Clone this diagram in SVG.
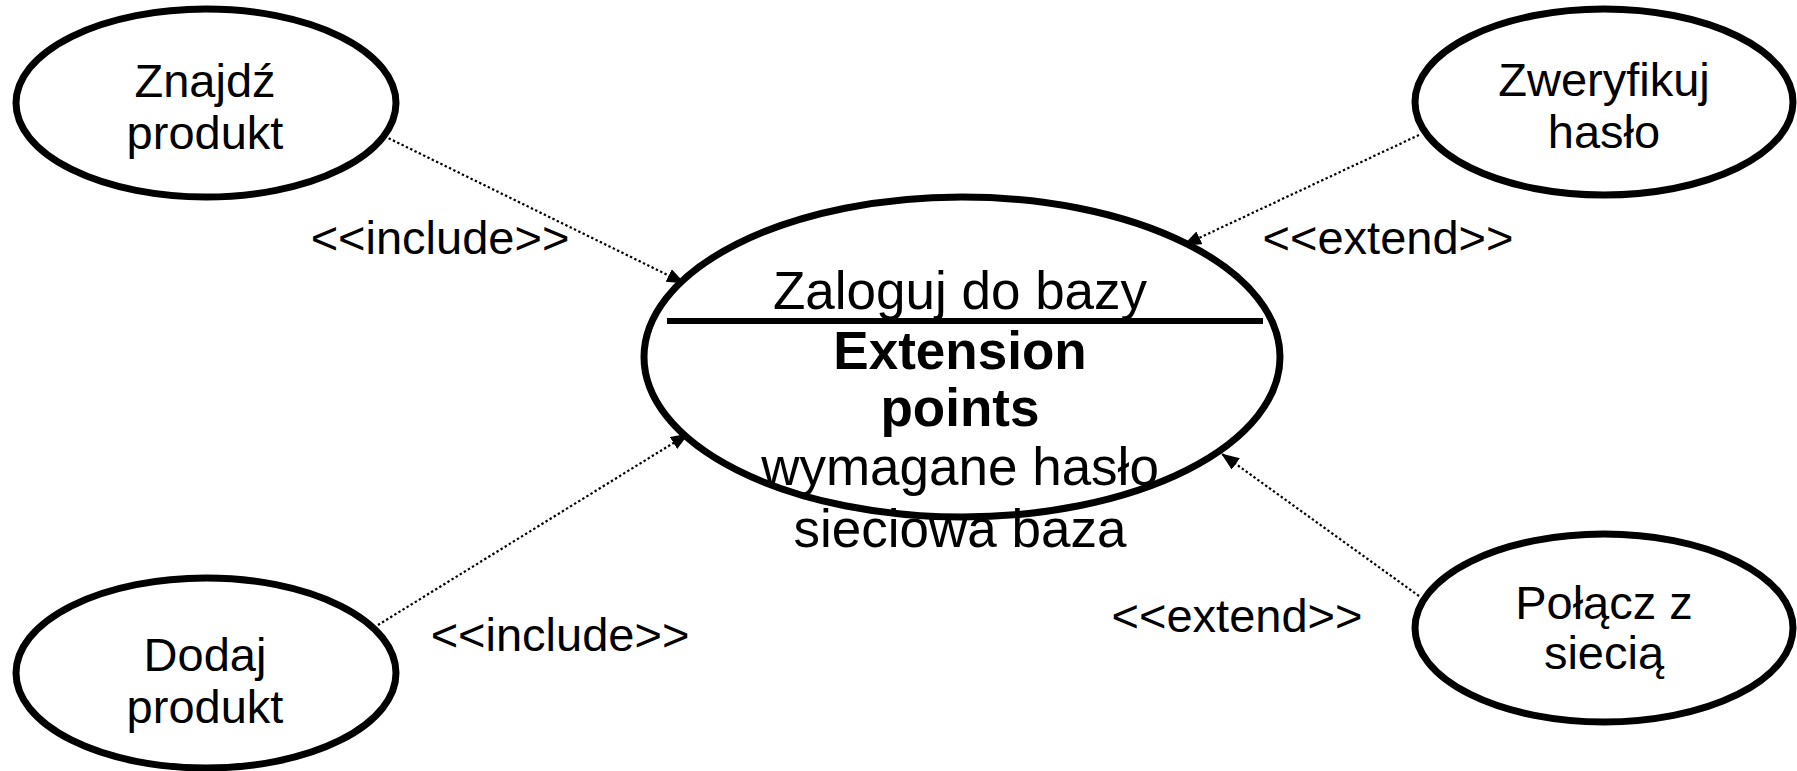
<svg xmlns="http://www.w3.org/2000/svg" width="1797" height="771" viewBox="0 0 1797 771">
  <style>
    .uc { fill: #ffffff; stroke: #000000; stroke-width: 7; }
    .t { font-family: "Liberation Sans", Arial, sans-serif; font-size: 47px; fill: #000000; text-anchor: middle; }
    .tc { font-family: "Liberation Sans", Arial, sans-serif; font-size: 53px; fill: #000000; text-anchor: middle; }
    .b { font-weight: bold; }
    .dep { fill: none; stroke: #000000; stroke-width: 2.2; stroke-dasharray: 2.4 2.4; marker-end: url(#arrow); }
  </style>
  <defs>
    <marker id="arrow" markerUnits="userSpaceOnUse" markerWidth="18" markerHeight="14" viewBox="0 0 18 14" refX="17" refY="7" orient="auto">
      <path d="M0,0 L18,7 L0,14 Z" fill="#000000"/>
    </marker>
  </defs>
  <rect width="1797" height="771" fill="#ffffff"/>

  <!-- dependencies between use cases -->
  <g id="connectors">
    <line class="dep" x1="380" y1="134" x2="684" y2="283"/>
    <line class="dep" x1="1419" y1="135" x2="1184" y2="245"/>
    <line class="dep" x1="378" y1="625" x2="688" y2="434"/>
    <line class="dep" x1="1419" y1="596" x2="1222" y2="454"/>
    <text class="t" x="440" y="254">&lt;&lt;include&gt;&gt;</text>
    <text class="t" x="1388" y="254">&lt;&lt;extend&gt;&gt;</text>
    <text class="t" x="560" y="651">&lt;&lt;include&gt;&gt;</text>
    <text class="t" x="1237" y="632">&lt;&lt;extend&gt;&gt;</text>
  </g>

  <g id="znajdz-produkt">
    <ellipse class="uc" cx="206" cy="103" rx="190" ry="94"/>
    <text class="t" x="205" y="97">Znajdź</text>
    <text class="t" x="205" y="149">produkt</text>
  </g>

  <g id="zweryfikuj-haslo">
    <ellipse class="uc" cx="1604" cy="102" rx="189" ry="93"/>
    <text class="t" x="1604" y="96">Zweryfikuj</text>
    <text class="t" x="1604" y="148">hasło</text>
  </g>

  <g id="dodaj-produkt">
    <ellipse class="uc" cx="206" cy="673" rx="190" ry="95"/>
    <text class="t" x="205" y="671">Dodaj</text>
    <text class="t" x="205" y="723">produkt</text>
  </g>

  <g id="polacz-z-siecia">
    <ellipse class="uc" cx="1604" cy="628" rx="189" ry="94"/>
    <text class="t" x="1604" y="619">Połącz z</text>
    <text class="t" x="1604" y="669">siecią</text>
  </g>

  <g id="zaloguj-do-bazy">
    <ellipse class="uc" cx="962" cy="357" rx="318" ry="160"/>
    <line x1="667" y1="321" x2="1263" y2="321" stroke="#000000" stroke-width="6"/>
    <text class="tc" x="960" y="309">Zaloguj do bazy</text>
    <text class="tc b" x="960" y="369">Extension</text>
    <text class="tc b" x="960" y="426">points</text>
    <text class="tc" x="960" y="485">wymagane hasło</text>
    <text class="tc" x="960" y="547">sieciowa baza</text>
  </g>
</svg>
